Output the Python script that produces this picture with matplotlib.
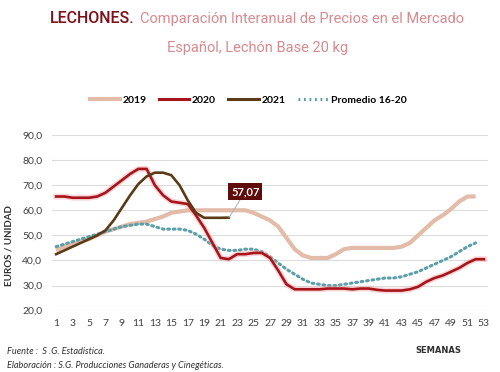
import matplotlib
matplotlib.use("Agg")
import matplotlib.pyplot as plt
from matplotlib.lines import Line2D

plt.rcParams['font.family'] = ['Lato', 'DejaVu Sans']

y2019 = [44, 45.5, 46.5, 47.5, 48.5, 50, 51.5, 52.5, 53.5, 54.5, 55, 55.5, 56.5, 57.5,
         59, 59.5, 60, 60, 60, 60, 60, 60, 60, 60, 59, 57.5, 56, 53.5, 49, 44.5, 42, 41,
         41, 41, 42.5, 44.5, 45, 45, 45, 45, 45, 45, 45.5, 47, 50, 53, 56, 58, 60.5,
         63.5, 65.5, 65.5]
y2020 = [65.5, 65.5, 65, 65, 65, 65.5, 67, 69.5, 72, 74.5, 76.5, 76.5, 70, 66, 63.5, 63,
         62.5, 58, 53, 47, 41, 40.5, 42.5, 42.5, 43, 43, 41, 36, 30.5, 28.5, 28.5, 28.5,
         28.5, 28.8, 28.8, 28.8, 28.5, 28.8, 28.8, 28.3, 28, 28, 28, 28.5, 29.5, 31.5,
         33, 34, 35.5, 37, 39, 40.5, 40.5]
y2021 = [42.5, 44, 45.5, 47, 48.5, 50, 52, 56, 61, 66, 70.5, 73.5, 75, 75, 74, 70, 64,
         59, 57, 57, 57, 57.07]
yprom = [45.5, 46.5, 47.5, 48.5, 49.5, 50.5, 51.5, 52.5, 53.5, 54, 54.5, 54.5, 53.5, 52.5,
         52.5, 52.5, 52, 50.5, 48.5, 46, 44.5, 44, 44, 44.5, 44.5, 43.5, 41.5, 39, 36.5,
         34.5, 32.5, 31, 30.5, 30, 30, 30.5, 31, 31.5, 32, 32.5, 33, 33, 33.5, 34.5, 35.5,
         37, 38.5, 40, 41.5, 43.5, 45.5, 47]
series_names = ['2019', '2020', '2021', 'Promedio 16-20']
yticks = [20, 30, 40, 50, 60, 70, 80, 90]
xticks = list(range(1, 54, 2))
last_label = '57,07'

c2019 = '#e3bba9'
c2020 = '#a8141b'
c2021 = '#5b3b17'
cprom = '#5d9fa8'

fig = plt.figure(figsize=(5, 3.72), dpi=100)
ax = fig.add_axes([0.104, 0.165, 0.872, 0.472])

def wk(v):
    return list(range(1, len(v) + 1))

ax.plot(wk(y2019), y2019, color=c2019, lw=3.0, solid_capstyle='butt', zorder=3)
ax.plot(wk(y2020), y2020, color='#f4a6a6', lw=4.2, alpha=0.45, zorder=3.5)
ax.plot(wk(y2020), y2020, color=c2020, lw=1.9, zorder=4)
ax.plot(wk(yprom), yprom, color=cprom, lw=2.2, linestyle=(0, (0.6, 1.2)),
        dash_capstyle='round', zorder=3.2)
ax.plot(wk(y2021), y2021, color=c2021, lw=1.9, zorder=5)

ax.annotate(last_label, xy=(len(y2021), y2021[-1]), xytext=(24.0, 67.4),
            ha='center', va='center', color='white', fontsize=8, fontweight='bold',
            bbox=dict(boxstyle='square,pad=0.25', fc='#5e0c0c', ec='none'),
            arrowprops=dict(arrowstyle='-', color='#b0b0b0', lw=0.7,
                            shrinkA=0, shrinkB=0), zorder=6)

ax.set_xlim(0.5, 53.5)
ax.set_ylim(20, 90)
ax.set_yticks(yticks)
ax.set_yticklabels([f'{v:.1f}'.replace('.', ',') for v in yticks])
ax.set_xticks(xticks)
ax.set_xticklabels([str(v) for v in xticks])
ax.tick_params(axis='both', length=0, labelsize=7.5, colors='#404040')
ax.tick_params(axis='y', pad=7)
ax.tick_params(axis='x', pad=6)
ax.grid(axis='y', color='#dcdcdc', lw=0.8)
ax.set_axisbelow(True)
for s in ax.spines.values():
    s.set_visible(False)

fig.text(0.018, 0.34, 'EUROS / UNIDAD', rotation=90, ha='center', va='center',
         fontsize=7, fontweight='bold', color='#303030')

handles = [
    Line2D([], [], color=c2019, lw=3.0),
    Line2D([], [], color=c2020, lw=2.2),
    Line2D([], [], color=c2021, lw=2.2),
    Line2D([], [], color=cprom, lw=2.2, linestyle=(0, (0.6, 1.2))),
]
fig.legend(handles, series_names, loc='center', bbox_to_anchor=(0.496, 0.731), ncol=4,
           frameon=False, handlelength=2.9, columnspacing=1.2,
           handletextpad=0.25, prop={'weight': 'bold', 'size': 7.5})

tfont = ['Roboto', 'DejaVu Sans']
t1 = fig.text(0.10, 0.938, 'LECHONES.', ha='left', va='baseline', fontsize=11.5,
              color='#7f1019', fontweight='medium', family=tfont)
fig.canvas.draw()
bb = t1.get_window_extent(renderer=fig.canvas.get_renderer())
x_rest = bb.x1 / fig.bbox.width + 0.01
fig.text(x_rest, 0.938, 'Comparación Interanual de Precios en el Mercado', ha='left',
         va='baseline', fontsize=10.5, color='#d98a8f', family=tfont)
fig.text(0.515, 0.86, 'Español, Lechón Base 20 kg', ha='center', va='baseline',
         fontsize=10.5, color='#d98a8f', family=tfont)

fig.text(0.83, 0.058, 'SEMANAS', ha='left', va='center', fontsize=6,
         fontweight='bold', color='#303030', family=['DejaVu Sans'])
fig.text(0.014, 0.054, 'Fuente :  S .G. Estadística.', ha='left', va='center',
         fontsize=6.6, style='italic', color='#303030')
fig.text(0.014, 0.018, 'Elaboración : S.G. Producciones Ganaderas y Cinegéticas.',
         ha='left', va='center', fontsize=6.6, style='italic', color='#303030')

fig.savefig('out.png', dpi=100, facecolor='white')
